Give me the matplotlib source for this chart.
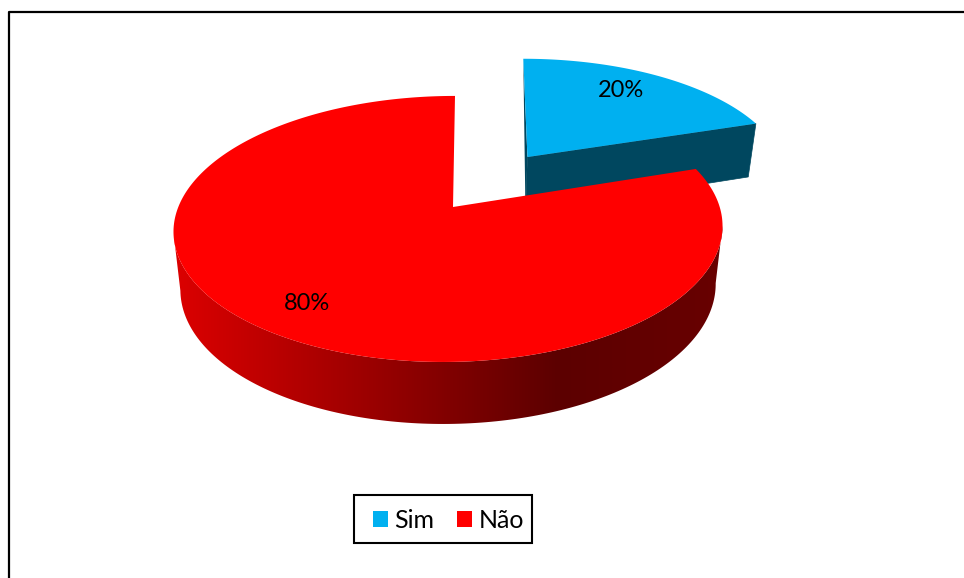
#3D style exploded pie, drawn by hand since matplotlib has no 3d pie
import numpy as np
import matplotlib
matplotlib.use('Agg')
import matplotlib.pyplot as plt
from matplotlib.patches import Polygon, Patch, Rectangle
from matplotlib.colors import LinearSegmentedColormap

categories = ['Sim', 'Não']
values = [20, 80]
top_colors = ['#00b0f0', '#ff0000']
blue_side = '#00475f'

plt.rcParams['font.family'] = ['Lato', 'DejaVu Sans']

# projection of the tilted disc, numbers in pixels of the picture
cx, cy = 449, 207
rx, ry = 270.7, 129.4
persp = 0.165
explode = 0.51
low_scale = 0.975


def project(X, Y):
    s = 1 + persp * Y
    x = cx + rx * X / s + 6 * Y
    y = cy - ry * Y / s
    return x, y


def lower(x, y, Y):
    # same point on the underside of the disc
    return cx + (x - cx) * low_scale, y + 57 - 5 * Y


def rim(start, end, dx=0, dy=0):
    t = np.radians(np.linspace(start, end, 300))
    X = np.sin(t) + dx
    Y = np.cos(t) + dy
    return X, Y


fig, ax = plt.subplots(figsize=(9.64, 5.78), dpi=100)
ax.set_position([0, 0, 1, 1])

# frame of the pasted chart, only top and left are inside the picture
ax.plot([9, 9, 964], [578, 12, 12], color='black', lw=1.6, zorder=1)

angles = np.cumsum([0] + values) / np.sum(values) * 360

# blue slice, pulled out along its middle angle
mid = np.radians((angles[0] + angles[1]) / 2)
dx, dy = explode * np.sin(mid), explode * np.cos(mid)
X, Y = rim(angles[0], angles[1], dx, dy)
px, py = project(X, Y)
ax0, ay0 = project(np.array([dx]), np.array([dy]))
lx, ly = lower(px, py, Y)
alx, aly = lower(ax0, ay0, np.array([dy]))

# side faces of the blue slice
ax.add_patch(Polygon([(ax0[0], ay0[0]), (px[-1], py[-1]), (lx[-1], ly[-1]), (alx[0], aly[0])],
                     fc=blue_side, ec=blue_side, lw=0.5, zorder=2))
ax.add_patch(Polygon([(ax0[0], ay0[0]), (px[0], py[0]), (alx[0], aly[0])],
                     fc=blue_side, ec='none', zorder=2))
ax.add_patch(Polygon(np.r_[[[ax0[0], ay0[0]]], np.c_[px, py]], fc=top_colors[0], ec='none', zorder=3))

# red slice wall with its gradient, straight edges between the widest points
X, Y = rim(angles[1], angles[2])
px, py = project(X, Y)
lx, ly = lower(px, py, Y)
i_r, i_l = np.argmax(px), np.argmin(px)
wall = Polygon(np.r_[np.c_[px, py][i_r:i_l + 1], np.c_[lx, ly][i_r:i_l + 1][::-1]],
               fc='none', ec='none', zorder=4)
ax.add_patch(wall)
cmap = LinearSegmentedColormap.from_list('wall', [(0, '#dc0000'), (0.70, '#5c0000'), (1, '#680000')])
grad = ax.imshow(np.linspace(0, 1, 512).reshape(1, -1), cmap=cmap, aspect='auto',
                 extent=[174, 723, 430, 200], zorder=4)
grad.set_clip_path(wall)

# red top
ax0, ay0 = project(np.array([0.0]), np.array([0.0]))
ax.add_patch(Polygon(np.r_[[[ax0[0] + 4, ay0[0]]], np.c_[px, py]], fc=top_colors[1], ec='none', zorder=5))

# percent labels
offs = [(dx, dy), (0, 0)]
label_shift = [(-9, -1), (0, 5)]
for i in range(len(values)):
    m = np.radians((angles[i] + angles[i + 1]) / 2)
    lab_x, lab_y = project(offs[i][0] + 0.78 * np.sin(m), offs[i][1] + 0.78 * np.cos(m))
    ax.text(lab_x + label_shift[i][0], lab_y + label_shift[i][1], '%d%%' % values[i],
            ha='center', va='center', fontsize=17, color='black', zorder=6)

# legend box is drawn apart so it gets the same size as the original
ax.add_patch(Rectangle((353.5, 494.5), 178, 48.5, fc='white', ec='black', lw=1.5, zorder=6))
handles = [Patch(fc=top_colors[i], ec='none', label=categories[i]) for i in range(len(categories))]
leg = ax.legend(handles=handles, loc='center left', bbox_to_anchor=(373, 520), bbox_transform=ax.transData,
                ncol=2, fontsize=18, frameon=False, borderaxespad=0, borderpad=0,
                handlelength=0.6, handleheight=0.6, handletextpad=0.25, columnspacing=0.92)
leg.set_zorder(7)

ax.set_xlim(0, 964)
ax.set_ylim(578, 0)
ax.axis('off')

plt.savefig('out.png', dpi=100)
